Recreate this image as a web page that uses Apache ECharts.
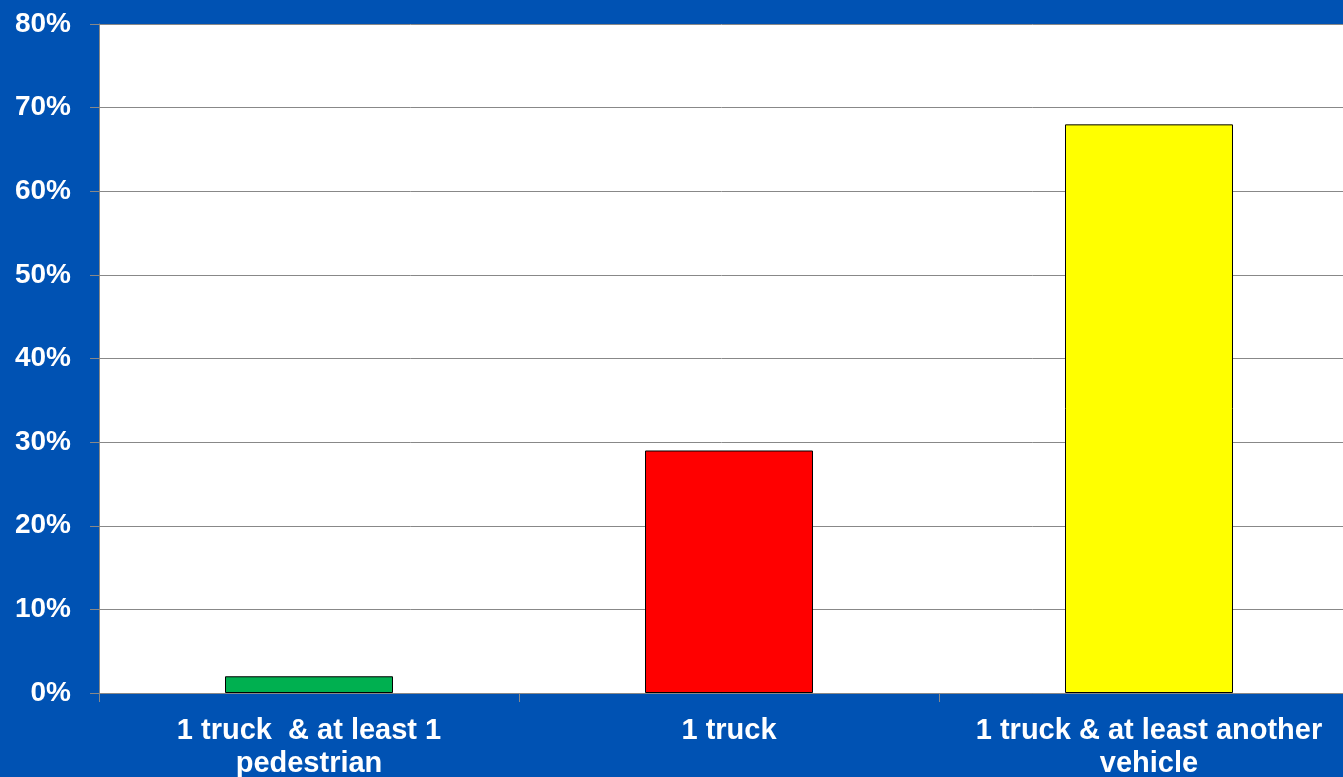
<!DOCTYPE html>
<html>
<head>
<meta charset="utf-8">
<script src="https://cdn.jsdelivr.net/npm/echarts@6/dist/echarts.min.js"></script>
<style>
html,body{margin:0;padding:0;background:#0052B3;overflow:hidden;}
#c{width:1343px;height:777px;}
</style>
</head>
<body>
<div id="c"></div>
<script>
var categories = ['1 truck  & at least 1\npedestrian', '1 truck', '1 truck & at least another\nvehicle'];
var values = [2, 29, 68];
var barColors = ['#00B050', '#FF0000', '#FFFF00'];
var yTicks = { min: 0, max: 80, interval: 10 };

var chart = echarts.init(document.getElementById('c'));
chart.setOption({
  backgroundColor: '#0052B3',
  animation: false,
  grid: { left: 99, right: -16, top: 24, bottom: 84, show: true, backgroundColor: '#FFFFFF', borderWidth: 0,
          containLabel: false, outerBoundsMode: 'none' },
  xAxis: {
    type: 'category',
    data: categories,
    axisLine: { show: true, lineStyle: { color: '#888888', width: 1 } },
    axisTick: { show: true, length: 9, lineStyle: { color: '#888888' } },
    axisLabel: {
      color: '#FFFFFF', fontFamily: 'Liberation Sans, Arial, sans-serif', fontWeight: 'bold',
      fontSize: 29, lineHeight: 33, margin: 21, interval: 0
    }
  },
  yAxis: {
    type: 'value',
    min: yTicks.min, max: yTicks.max, interval: yTicks.interval,
    axisLine: { show: true, lineStyle: { color: '#888888', width: 1 } },
    axisTick: { show: true, length: 9, lineStyle: { color: '#888888' } },
    splitLine: { show: true, lineStyle: { color: '#888888', width: 1 } },
    axisLabel: {
      color: '#FFFFFF', fontFamily: 'Liberation Sans, Arial, sans-serif', fontWeight: 'bold',
      fontSize: 28, margin: 28, formatter: '{value}%'
    }
  },
  series: [{
    type: 'bar',
    data: values.map(function (v, i) { return { value: v, itemStyle: { color: barColors[i] } }; }),
    barCategoryGap: '60%',
    itemStyle: { borderColor: '#000000', borderWidth: 1 }
  }]
});
</script>
</body>
</html>
